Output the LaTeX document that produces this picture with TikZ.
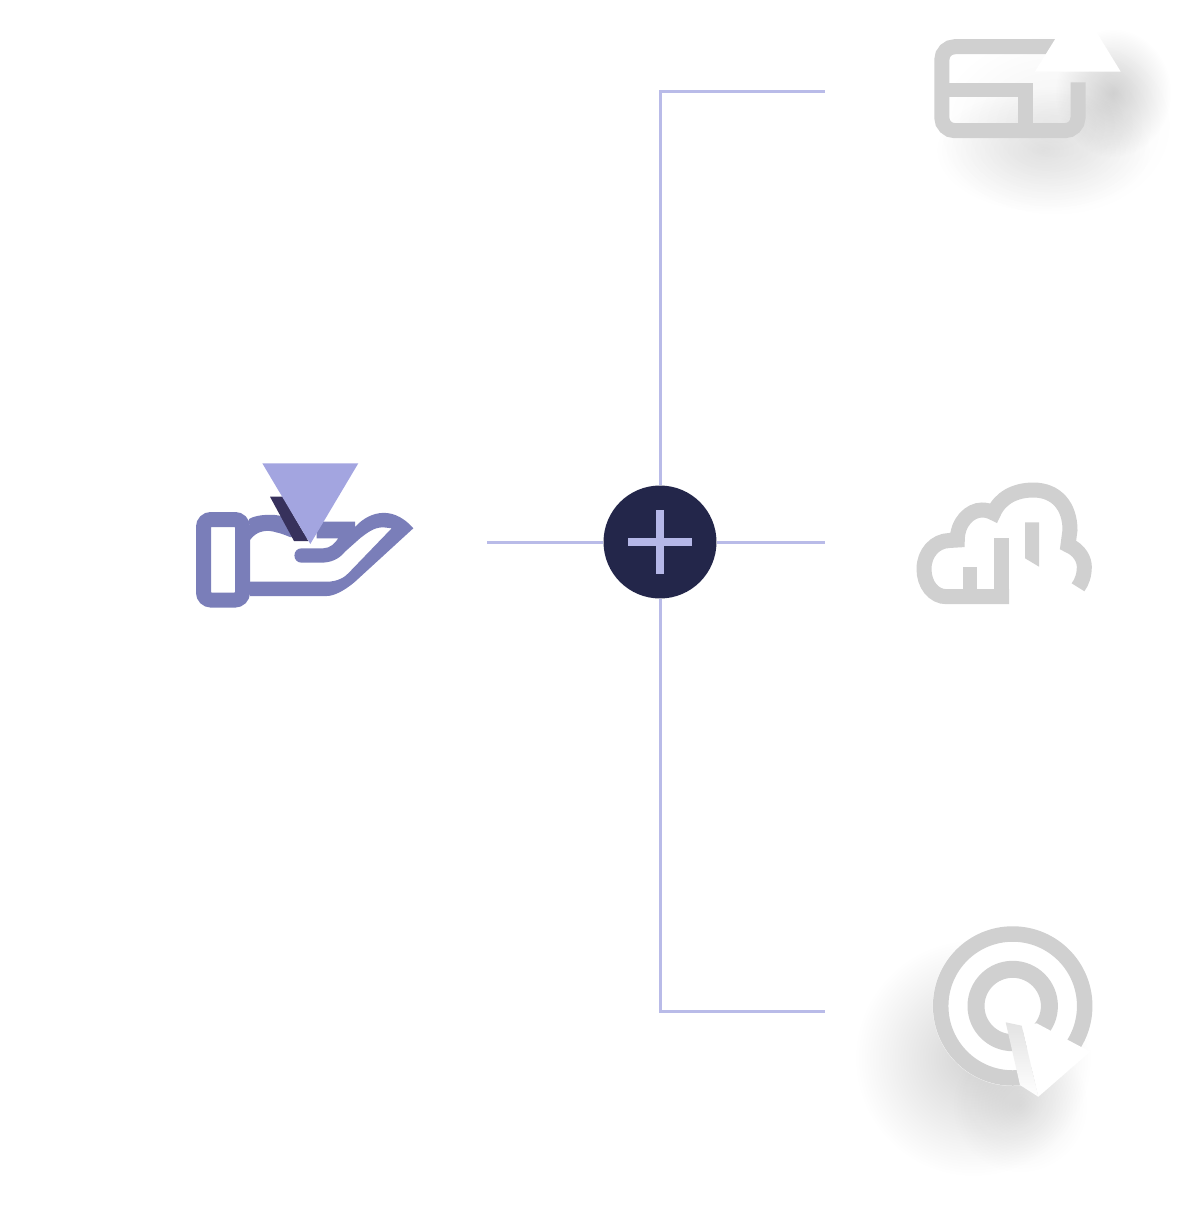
\documentclass[tikz,border=0pt]{standalone}
\usetikzlibrary{calc,fadings}
\definecolor{branchblue}{HTML}{B9BBE8}
\definecolor{hubnavy}{HTML}{23264A}
\definecolor{plusblue}{HTML}{B5B7E8}
\definecolor{handblue}{HTML}{7A7EB9}
\definecolor{dropblue}{HTML}{A3A5E0}
\definecolor{stripedark}{HTML}{37315C}
\definecolor{icongray}{HTML}{D0D0D0}
\tikzfading[name=softblob, inner color=transparent!0, outer color=transparent!100]
\tikzset{%
    branch/.style={%
        draw=branchblue, line width=0.06cm
    },
    hubnode/.style={%
        circle, fill=hubnavy, minimum size=2.26cm, inner sep=0pt
    },
    plusbar/.style={%
        draw=plusblue, line width=0.16cm
    },
    handfill/.style={%
        fill=handblue
    },
    iconline/.style={%
        draw=icongray, line width=0.3cm
    },
    blob/.style={%
        fill=black, path fading=softblob, fill opacity=#1
    },
}
\begin{document}
\begin{tikzpicture}[x=0.02cm,y=-0.02cm]
      \useasboundingbox (0,0) rectangle (1200,1210);

      % connectors
      \coordinate (leftend) at (487,542);
      \coordinate (rightend) at (825,542);
      \coordinate (topcorner) at (660,91);
      \coordinate (topend) at (825,91);
      \coordinate (bottomcorner) at (660,1011);
      \coordinate (bottomend) at (825,1011);
      \node[hubnode] (hub) at (660,542) {};
      \draw[branch] (leftend) -- (hub);
      \draw[branch] (hub) -- (rightend);
      \draw[branch] (hub) -- (topcorner) -- (topend);
      \draw[branch] (hub) -- (bottomcorner) -- (bottomend);
      \draw[plusbar] ($(hub)+(-32,0)$) -- ($(hub)+(32,0)$);
      \draw[plusbar] ($(hub)+(0,-32)$) -- ($(hub)+(0,32)$);

      % hand
      \draw[draw=handblue, line width=0.3cm, rounded corners=0.15cm] (203.5,519.5) rectangle (242.5,600);
      \fill[handfill] (249,519) .. controls (256,515) and (266,514.5) .. (275,515)
        .. controls (283,515.5) and (292,520) .. (300,530) -- (310,538.3) -- (290,537)
        .. controls (285,535) and (280,533) .. (276.7,532.5)
        .. controls (268,529.5) and (257,530) .. (250,540) -- cycle;
      \fill[handfill] (316.7,521.7) -- (355,521.7) -- (355,527.3)
        .. controls (365,515) and (390,501.7) .. (413.3,528.3) -- (355,581.7)
        .. controls (343.3,591.7) and (333.3,596) .. (326.7,596) -- (250,596) -- (250,581.7) -- (326.7,581.7)
        .. controls (338.3,581.7) and (345,576.7) .. (348.3,573.3) -- (391.7,528.3) -- (383.3,527.3)
        .. controls (373.3,527.3) and (366.7,533.3) .. (360,538.3) -- (345,551.7)
        .. controls (338.3,560) and (330,562.7) .. (320,562.7) -- (301.7,562.7)
        .. controls (292,562.7) and (292,548.3) .. (301.7,548.3) -- (323.3,548.3)
        .. controls (330,548.3) and (335,543.3) .. (338.3,538.3) -- (316.7,538.3) -- cycle;
      \fill[stripedark] (270,496.7) -- (282.7,496.7) -- (308.3,541) -- (294,541) -- cycle;
      \fill[dropblue] (262.3,463.3) -- (358.3,463.3) -- (310.3,544) -- cycle;

      % card icon
      \fill[blob=0.17] (1113,93) ellipse (58 and 64);
      \fill[blob=0.09] (1043,150) ellipse (108 and 62);
      \fill[blob=0.05] (1055,125) ellipse (118 and 92);
      \draw[iconline, rounded corners=0.26cm] (1078,82.3) -- (1078,130.7) -- (941.8,130.7) -- (941.8,46.7) -- (1060,46.7);
      \draw[iconline] (941.8,90) -- (1025.7,90) -- (1025.7,130);
      \fill[white] (1035,71.7) -- (1120.7,71.7) -- (1078,2) -- cycle;

      % cloud icon
      \draw[iconline] (1009,596.7) -- (946.7,596.7)
        .. controls (933,596.7) and (924,584) .. (924,569)
        .. controls (924,553) and (935,541) .. (949,540.5) -- (957.3,540)
        .. controls (957.3,522) and (970,510) .. (982,510)
        .. controls (986,510) and (990,511) .. (993.5,513)
        .. controls (1000,498) and (1015,490) .. (1033.3,490)
        .. controls (1056.7,490) and (1070,506.7) .. (1070,530) -- (1068,545)
        .. controls (1080,550) and (1084.3,560) .. (1084.3,566.7)
        .. controls (1084.3,575) and (1082,582) .. (1078,587.3);
      \fill[icongray] (962.7,567.3) -- (976.7,567.3) -- (976.7,590) -- (962.7,590) -- cycle;
      \fill[icongray] (994.3,538.3) -- (1009,538.3) -- (1009,604) -- (994.3,604) -- cycle;
      \fill[icongray] (1025,522.3) -- (1039,522.3) -- (1039,566.7) -- (1025,558.3) -- cycle;

      % target icon
      \fill[blob=0.17] (973,1058) circle (118);
      \fill[blob=0.08] (1020,1105) circle (68);
      \fill[white] (1012.7,1006) circle (80);
      \draw[draw=icongray, line width=0.31cm] (1012.7,1006) circle (72);
      \draw[draw=icongray, line width=0.34cm] (1012.7,1006) circle (36.7);
      \fill[white] (1021.7,1025.7) -- (1036.7,1023.3) -- (1090,1051.7) -- (1038.3,1096.7) -- cycle;
      \shade[top color=icongray!60, bottom color=white] (1005.7,1022.3) -- (1021.7,1025.7) -- (1038.3,1096.7) -- (1020,1085) -- cycle;
    \end{tikzpicture}
\end{document}
